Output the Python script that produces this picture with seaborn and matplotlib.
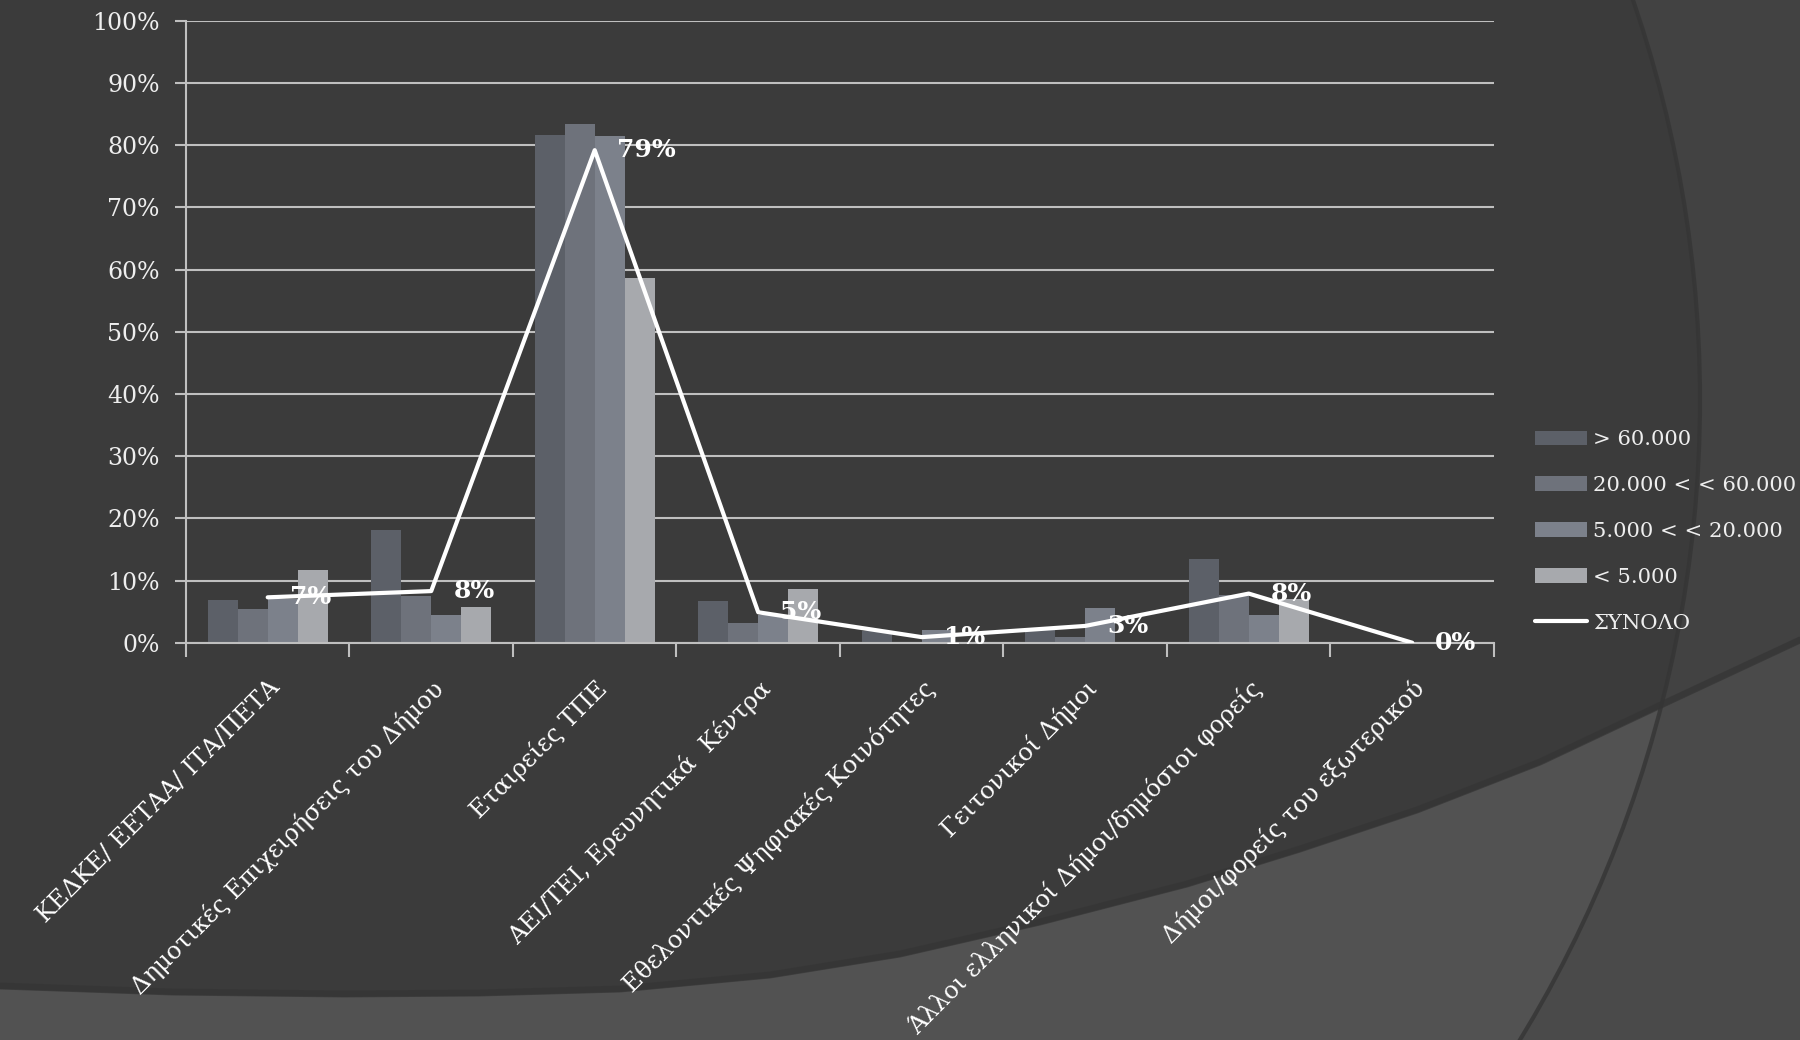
import numpy as np
import pandas as pd
import matplotlib
matplotlib.use("Agg")
import matplotlib.pyplot as plt
import seaborn as sns
from matplotlib.patches import Polygon, Circle, Rectangle, Patch
from matplotlib.lines import Line2D

# ---------------- data ----------------
categories = [
    "ΚΕΔΚΕ/ ΕΕΤΑΑ/ ΙΤΑ/ΠΕΤΑ",
    "Δημοτικές Επιχειρήσεις του Δήμου",
    "Εταιρείες ΤΠΕ",
    "ΑΕΙ/ΤΕΙ, Ερευνητικά  Κέντρα",
    "Εθελοντικές Ψηφιακές Κοινότητες",
    "Γειτονικοί Δήμοι",
    "Άλλοι ελληνικοί Δήμοι/δημόσιοι φορείς",
    "Δήμοι/φορείς του εξωτερικού",
]
series_names = ["> 60.000", "20.000 < < 60.000", "5.000 < < 20.000", "< 5.000"]
v_gt60 = [6.8, 18.2, 81.7, 6.7, 1.9, 2.2, 13.5, 0.0]
v_20_60 = [5.5, 7.5, 83.4, 3.1, 0.0, 0.9, 7.6, 0.0]
v_5_20 = [7.0, 4.5, 81.5, 4.5, 2.0, 5.6, 4.5, 0.0]
v_lt5 = [11.7, 5.8, 58.7, 8.6, 0.0, 0.0, 7.0, 0.0]
total_name = "ΣΥΝΟΛΟ"
total = [7.3, 8.3, 79.2, 4.9, 0.9, 2.7, 7.9, 0.0]
total_labels = ["7%", "8%", "79%", "5%", "1%", "3%", "8%", "0%"]
y_ticks = list(range(0, 101, 10))
y_tick_labels = [f"{v}%" for v in y_ticks]

bar_colors = ["#5c6068", "#6e727b", "#7c818b", "#a7a9ad"]

rows = []
for name, vals in zip(series_names, [v_gt60, v_20_60, v_5_20, v_lt5]):
    for c, v in zip(categories, vals):
        rows.append({"category": c, "series": name, "value": v})
df = pd.DataFrame(rows)

# ---------------- style ----------------
sns.set_style("ticks")
plt.rcParams["font.family"] = ["DejaVu Serif", "DejaVu Sans"]

fig = plt.figure(figsize=(18, 10.4), dpi=100, facecolor="#3b3b3b")

# decorative background
bg = fig.add_axes([0, 0, 1, 1], zorder=-10)
bg.set_xlim(0, 1800)
bg.set_ylim(1040, 0)
bg.axis("off")
bg.add_patch(Rectangle((0, 0), 1800, 1040, color="#424242", lw=0))
circ = Circle((473, 400), 1227, color="#3b3b3b", lw=0)
bg.add_patch(circ)
curve_pts = [(0, 989), (172, 995), (344, 997), (480, 996), (620, 992), (770, 978),
             (900, 957), (1040, 925), (1187, 887), (1300, 852), (1417, 813),
             (1540, 765), (1663, 707), (1800, 643)]
poly = curve_pts + [(1800, 1040), (0, 1040)]
p1 = Polygon(poly, closed=True, color="#4a4a4a", lw=0)
bg.add_patch(p1)
p2 = Polygon(poly, closed=True, color="#525252", lw=0)
bg.add_patch(p2)
p2.set_clip_path(circ)
cx = [p[0] for p in curve_pts]
cy = [p[1] for p in curve_pts]
bg.plot(cx, [y - 3 for y in cy], color="#353535", lw=5, alpha=0.7)
bg.add_patch(Circle((473, 400), 1227, fill=False, ec="#353535", lw=3, alpha=0.8))

# main axes
ax = fig.add_axes([0.1033, 0.382, 0.7267, 0.598], zorder=1)
ax.set_facecolor("none")

sns.barplot(data=df, x="category", y="value", hue="series", order=categories,
            hue_order=series_names, palette=bar_colors, width=0.734,
            saturation=1, errorbar=None, legend=False, ax=ax, zorder=2,
            edgecolor="none", linewidth=0)
sns.lineplot(x=np.arange(len(categories)), y=total, color="white", lw=3,
             ax=ax, legend=False, zorder=3)

for i, (v, lab) in enumerate(zip(total, total_labels)):
    ax.annotate(lab, (i, v), xytext=(16, 0), textcoords="offset points",
                ha="left", va="center", color="white", fontsize=18,
                fontweight="bold", zorder=4)

ax.set_xlim(-0.5, len(categories) - 0.5)
ax.set_ylim(0, 100)
ax.set_xlabel("")
ax.set_ylabel("")

ax.set_yticks(y_ticks)
ax.set_yticklabels(y_tick_labels)
ax.tick_params(axis="y", length=8, width=1.5, color="#bfbfbf", pad=11,
               labelsize=17, labelcolor="#eeeeee", direction="out")
ax.set_xticks(np.arange(len(categories)))
ax.set_xticklabels(categories, rotation=45, ha="right", va="top",
                   rotation_mode="anchor")
ax.tick_params(axis="x", which="major", length=0, pad=24, labelsize=17.5,
               labelcolor="#ffffff")
ax.set_xticks(np.arange(-0.5, len(categories), 1), minor=True)
ax.tick_params(axis="x", which="minor", length=10, width=1.5, color="#bfbfbf",
               direction="out")

ax.yaxis.grid(True, color="#bfbfbf", lw=1.5)
ax.set_axisbelow(True)
for s in ["top", "right"]:
    ax.spines[s].set_visible(False)
for s in ["left", "bottom"]:
    ax.spines[s].set_color("#bfbfbf")
    ax.spines[s].set_linewidth(1.5)

handles = [Patch(facecolor=c, edgecolor="none", label=n) for c, n in zip(bar_colors, series_names)]
handles.append(Line2D([], [], color="white", lw=3, label=total_name))
fig.legend(handles=handles, loc="center left", bbox_to_anchor=(0.853, 0.489),
           bbox_transform=fig.transFigure, frameon=False, fontsize=15.2,
           labelcolor="#eeeeee", handlelength=2.45, handleheight=0.7,
           handletextpad=0.3, labelspacing=1.27, borderpad=0, borderaxespad=0)

fig.savefig("out.png", dpi=100, facecolor=fig.get_facecolor())
